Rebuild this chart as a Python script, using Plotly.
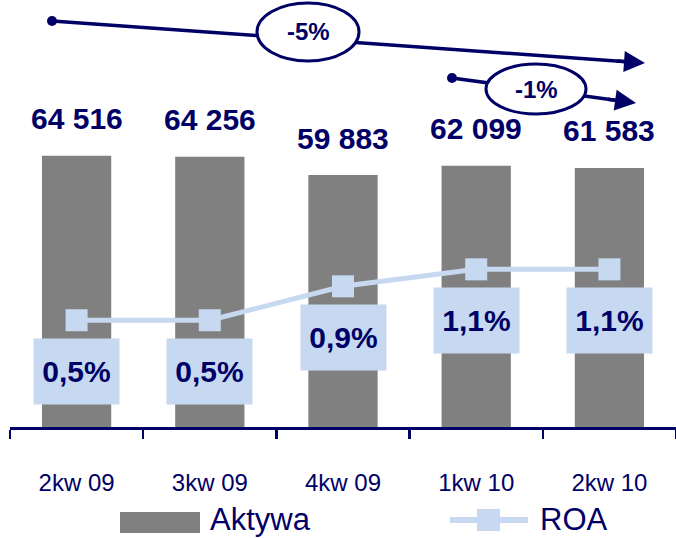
import plotly.graph_objects as go

# ---- data ----
categories = ["2kw 09", "3kw 09", "4kw 09", "1kw 10", "2kw 10"]
aktywa = [64516, 64256, 59883, 62099, 61583]
roa = [0.5, 0.5, 0.9, 1.1, 1.1]
roa_labels = ["0,5%", "0,5%", "0,9%", "1,1%", "1,1%"]
change_labels = ["-5%", "-1%"]
series_names = ["Aktywa", "ROA"]

NAVY = "#000066"
GREY = "#808080"
LBLUE = "#C6D9F0"
FONT = "Liberation Sans, Arial, sans-serif"

W, H = 676, 538
ML, MR, MT, MB = 10, 0, 0, 111
PW, PH = W - ML - MR, H - MT - MB


def X(px):
    return (px - ML) / PW


def Y(py):
    return (H - MB - py) / PH


def fmt(v):
    return f"{v:,}".replace(",", " ")


fig = go.Figure()
fig.add_trace(go.Bar(x=categories, y=aktywa, name=series_names[0],
                     marker=dict(color=GREY, line=dict(width=0)), width=0.52,
                     showlegend=False, hoverinfo="skip"))
fig.add_trace(go.Scatter(x=categories, y=roa, name=series_names[1], yaxis="y2",
                         mode="lines+markers",
                         line=dict(color=LBLUE, width=5),
                         marker=dict(symbol="square", size=22, color=LBLUE),
                         showlegend=False, hoverinfo="skip"))

annotations = []
for c, v in zip(categories, aktywa):
    annotations.append(dict(x=c, y=v, xref="x", yref="y", text=fmt(v), showarrow=False,
                            yshift=37, yanchor="middle", xanchor="center",
                            font=dict(family=FONT, size=30, color=NAVY, weight="bold")))
for c, v, t in zip(categories, roa, roa_labels):
    annotations.append(dict(x=c, y=v, xref="x", yref="y2", text=f"<b>{t}</b>", showarrow=False,
                            yshift=-51, yanchor="middle", xanchor="center", bgcolor=LBLUE,
                            width=85, height=65, borderpad=0, valign="middle",
                            font=dict(family=FONT, size=30, color=NAVY)))

shapes = []
# change arrows (decoration)
arrows = [((52, 21), (645, 63), (308, 32), 51, 29, change_labels[0]),
          ((452, 78), (636, 103), (536, 89), 50, 25, change_labels[1])]
for (x0, y0), (x1, y1), (cx, cy), rx, ry, lab in arrows:
    dx, dy = x1 - x0, y1 - y0
    L = (dx ** 2 + dy ** 2) ** 0.5
    ux, uy = dx / L, dy / L
    shapes.append(dict(type="line", xref="paper", yref="paper",
                       x0=X(x0), y0=Y(y0), x1=X(x1 - 8 * ux), y1=Y(y1 - 8 * uy),
                       line=dict(color=NAVY, width=3.5)))
    shapes.append(dict(type="circle", xref="paper", yref="paper",
                       x0=X(cx - rx), x1=X(cx + rx), y0=Y(cy + ry), y1=Y(cy - ry),
                       fillcolor="white", line=dict(color=NAVY, width=3)))
    shapes.append(dict(type="circle", xref="paper", yref="paper",
                       x0=X(x0 - 5), x1=X(x0 + 5), y0=Y(y0 + 5), y1=Y(y0 - 5),
                       fillcolor=NAVY, line=dict(color=NAVY, width=0)))
    annotations.append(dict(x=X(cx), y=Y(cy), xref="paper", yref="paper", text=f"<b>{lab}</b>",
                            showarrow=False, xanchor="center", yanchor="middle",
                            font=dict(family=FONT, size=24, color=NAVY)))
    annotations.append(dict(x=X(x1), y=Y(y1), xref="paper", yref="paper", text="",
                            showarrow=True, ax=-30 * ux, ay=-30 * uy, axref="pixel", ayref="pixel",
                            arrowhead=2, arrowsize=1.2, arrowwidth=3.5, arrowcolor=NAVY,
                            standoff=0, startstandoff=0))

# custom legend
shapes.append(dict(type="rect", xref="paper", yref="paper", x0=X(120), x1=X(200),
                   y0=Y(533), y1=Y(512), fillcolor=GREY, line=dict(width=0)))
annotations.append(dict(x=X(208), y=Y(519), xref="paper", yref="paper", text=series_names[0],
                        xanchor="left", yanchor="middle", showarrow=False,
                        font=dict(family=FONT, size=31, color=NAVY)))
shapes.append(dict(type="line", xref="paper", yref="paper", x0=X(450), x1=X(528),
                   y0=Y(520), y1=Y(520), line=dict(color=LBLUE, width=6)))
shapes.append(dict(type="rect", xref="paper", yref="paper", x0=X(477), x1=X(500),
                   y0=Y(531), y1=Y(509), fillcolor=LBLUE, line=dict(width=0)))
annotations.append(dict(x=X(538), y=Y(519), xref="paper", yref="paper", text=series_names[1],
                        xanchor="left", yanchor="middle", showarrow=False,
                        font=dict(family=FONT, size=31, color=NAVY)))

fig.update_layout(
    width=W, height=H,
    margin=dict(l=ML, r=MR, t=MT, b=MB),
    paper_bgcolor="white", plot_bgcolor="white",
    showlegend=False,
    xaxis=dict(type="category", range=[-0.5, 4.5], showline=True, linecolor=NAVY, linewidth=3,
               ticks="outside", tickson="boundaries", ticklen=9, tickwidth=2.5, tickcolor=NAVY,
               showgrid=False, zeroline=False, ticklabelstandoff=32,
               tickfont=dict(family=FONT, size=24, color=NAVY)),
    yaxis=dict(range=[0, 101517], visible=False, showgrid=False, zeroline=False),
    yaxis2=dict(range=[-0.759, 4.276], overlaying="y", visible=False, showgrid=False,
                zeroline=False),
    annotations=annotations,
    shapes=shapes,
    bargap=0.48,
)

fig.write_html("out.html", config={"displayModeBar": False, "staticPlot": True},
               post_script="document.body.style.margin='0px';document.body.style.overflow='hidden';")
